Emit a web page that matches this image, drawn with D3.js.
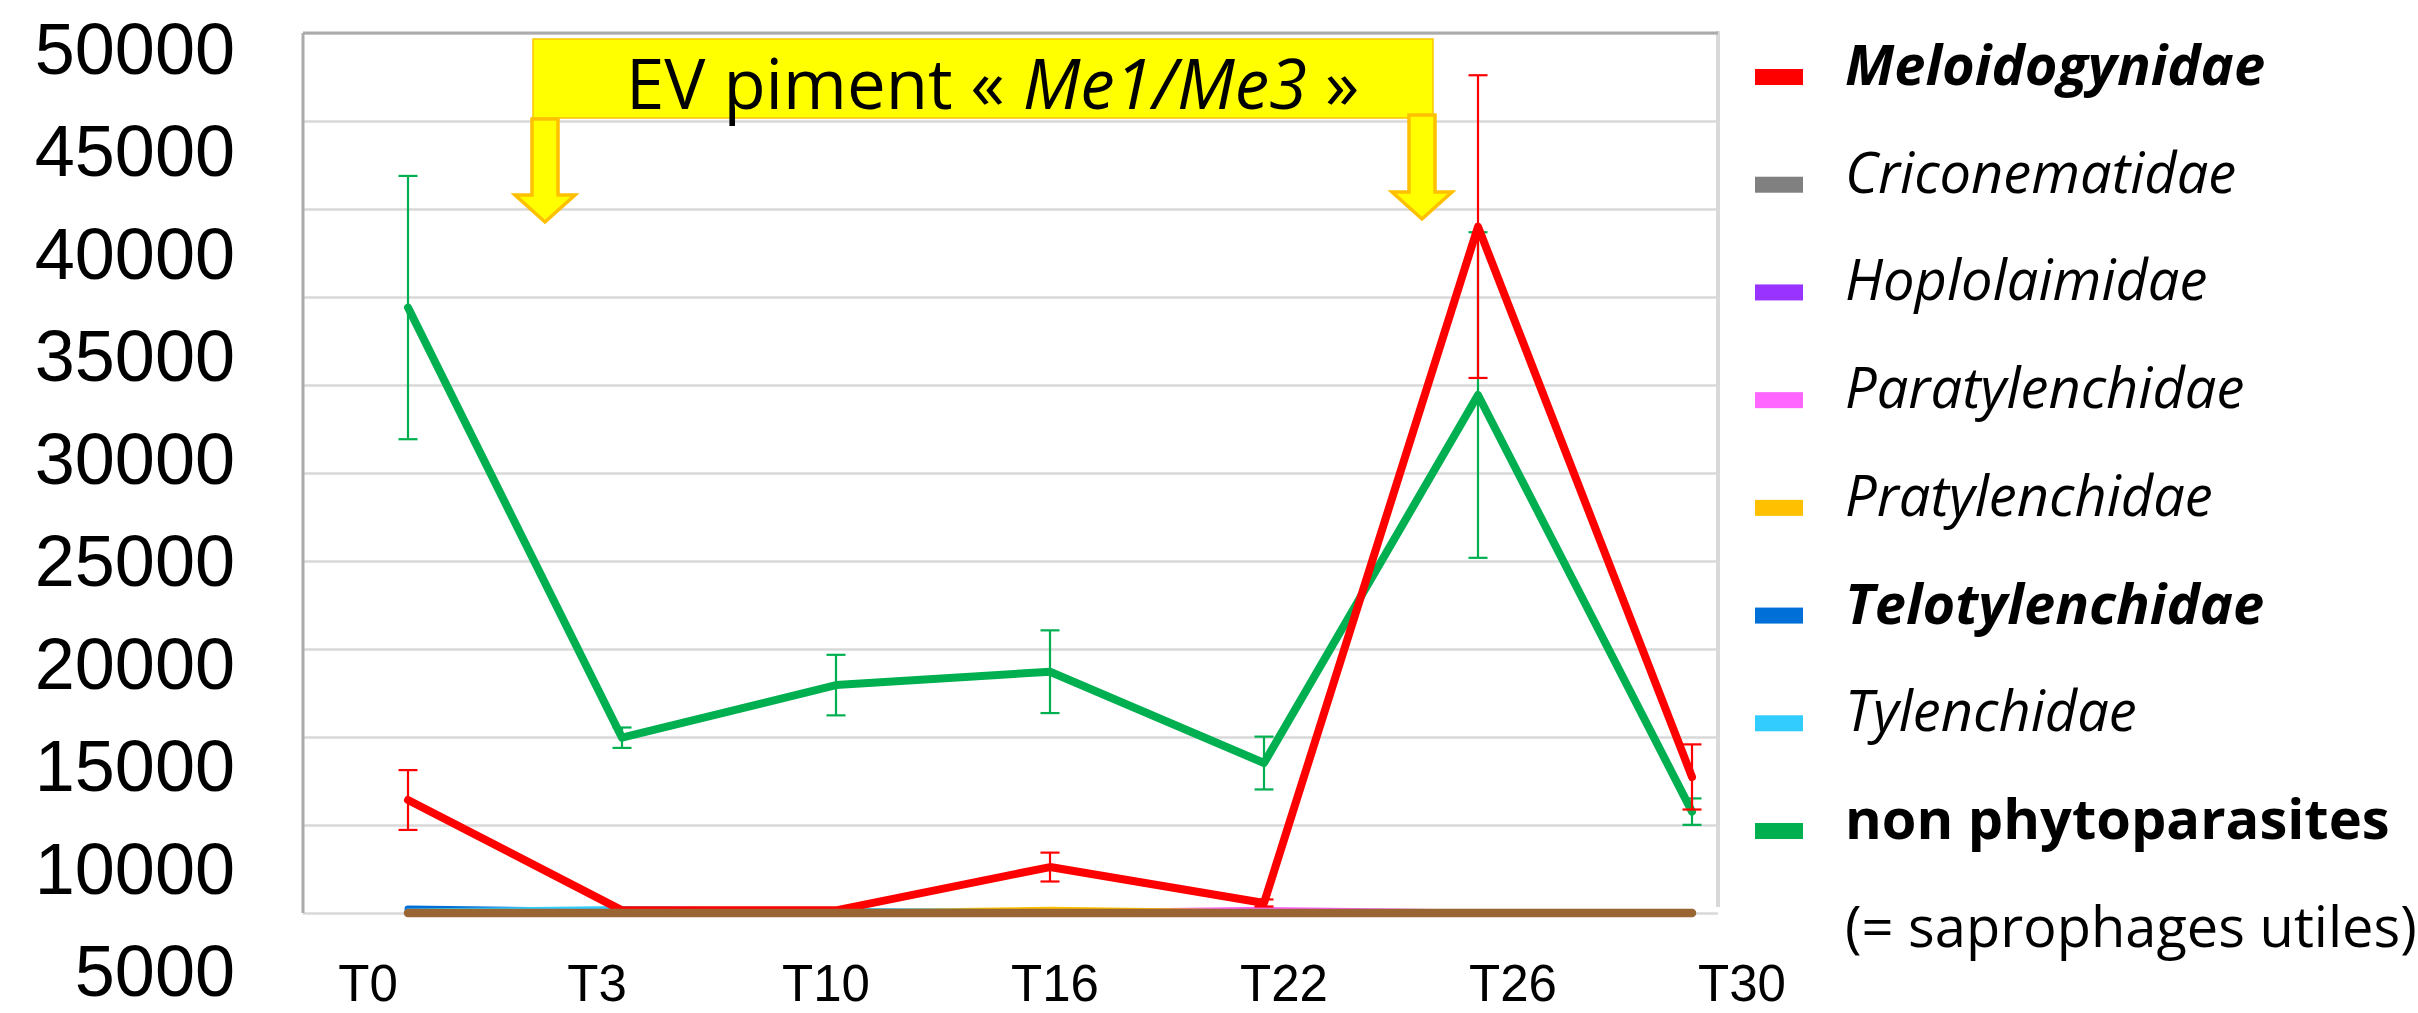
<!DOCTYPE html>
<html><head><meta charset="utf-8">
<script src="https://cdn.jsdelivr.net/npm/d3@7"></script>
<style>body{margin:0;background:#fff} svg{display:block}</style>
</head><body>
<svg id="chart" width="2418" height="1013"></svg>
<script>
// ---------- DATA ----------
const categories = ["T0", "T3", "T10", "T16", "T22", "T26", "T30"];
const meloidogynidae    = [6420, 150, 150, 2610, 570, 39000, 7730];
const meloidogynidaeErr = [1700, 0, 0, 820, 200, 8600, 1850];
const criconematidae    = [0, 0, 0, 0, 0, 0, 0];
const hoplolaimidae     = [0, 0, 0, 0, 0, 0, 0];
const paratylenchidae   = [0, 0, 0, 0, 150, 0, 0];
const pratylenchidae    = [0, 0, 0, 150, 0, 0, 0];
const telotylenchidae   = [230, 80, 0, 0, 0, 0, 0];
const tylenchidae       = [60, 200, 100, 0, 0, 0, 0];
const nonPhyto          = [34400, 9960, 12950, 13710, 8520, 29430, 5760];
const nonPhytoErr       = [7480, 580, 1720, 2350, 1500, 9250, 750];
const baselineSeries    = [0, 0, 0, 0, 0, 0, 0];
const yTickLabels = ["50000", "45000", "40000", "35000", "30000", "25000", "20000", "15000", "10000", "5000"];
const legendNames = ["Meloidogynidae", "Criconematidae", "Hoplolaimidae", "Paratylenchidae",
                     "Pratylenchidae", "Telotylenchidae", "Tylenchidae", "non phytoparasites"];
const legendNote = "(= saprophages utiles)";
const bannerParts = [["EV piment « ", "normal"], ["Me1/Me3", "italic"], [" »", "normal"]];

// ---------- STYLE / LAYOUT ----------
const colors = {
  Meloidogynidae: "#FF0000", Criconematidae: "#808080", Hoplolaimidae: "#9933FF",
  Paratylenchidae: "#FF66FF", Pratylenchidae: "#FFC000", Telotylenchidae: "#0070D8",
  Tylenchidae: "#33CCFF", "non phytoparasites": "#00B050", baseline: "#996633"
};
const legendStyle = {
  Meloidogynidae: ["italic", 700], Criconematidae: ["italic", 400], Hoplolaimidae: ["italic", 400],
  Paratylenchidae: ["italic", 400], Pratylenchidae: ["italic", 400], Telotylenchidae: ["italic", 700],
  Tylenchidae: ["italic", 400], "non phytoparasites": ["normal", 700]
};
const plot = {left: 303, right: 1718, top: 33, bottom: 913};
const svg = d3.select("#chart");

const x = d3.scalePoint().domain(categories).range([408, 1692]);
const y = d3.scaleLinear().domain([0, 50000]).range([plot.bottom, plot.top]);

// gridlines
const grid = svg.append("g").attr("transform", `translate(${plot.left},0)`)
  .call(d3.axisLeft(y).ticks(10).tickSize(-(plot.right - plot.left)).tickFormat(""));
grid.select(".domain").remove();
grid.selectAll("line").attr("stroke", "#D9D9D9").attr("stroke-width", 2.5);

// borders
svg.append("line").attr("x1", plot.right).attr("x2", plot.right).attr("y1", plot.top - 2).attr("y2", plot.bottom - 6)
  .attr("stroke", "#D9D9D9").attr("stroke-width", 4);
svg.append("line").attr("x1", plot.left).attr("x2", plot.right).attr("y1", plot.top).attr("y2", plot.top)
  .attr("stroke", "#ABABAB").attr("stroke-width", 3);
svg.append("line").attr("x1", plot.left).attr("x2", plot.left).attr("y1", plot.top).attr("y2", plot.bottom)
  .attr("stroke", "#ABABAB").attr("stroke-width", 3);

// y label column (pasted labels, own spacing)
const yLab = d3.scalePoint().domain(yTickLabels).range([74, 996]);
svg.append("g").selectAll("text").data(yTickLabels).join("text")
  .attr("x", 235).attr("y", d => yLab(d)).attr("text-anchor", "end")
  .style("font-family", "'Liberation Sans', Arial, sans-serif").style("font-size", "72px")
  .attr("fill", "#000").text(d => d);

// x labels
const xLab = d3.scalePoint().domain(categories).range([368, 1742]);
svg.append("g").selectAll("text").data(categories).join("text")
  .attr("x", d => xLab(d)).attr("y", 1001).attr("text-anchor", "middle")
  .style("font-family", "'Liberation Sans', Arial, sans-serif").style("font-size", "51px")
  .attr("fill", "#000").text(d => d);

// series
const line = d3.line().x((d, i) => x(categories[i])).y(d => y(d));
function drawSeries(values, color, width) {
  svg.append("path").datum(values).attr("d", line).attr("fill", "none")
    .attr("stroke", color).attr("stroke-width", width)
    .attr("stroke-linejoin", "round").attr("stroke-linecap", "round");
}
function drawErr(values, errs, color) {
  const g = svg.append("g").attr("stroke", color).attr("stroke-width", 2.2);
  values.forEach((v, i) => {
    const e = errs[i]; if (!e) return;
    const cx = x(categories[i]);
    g.append("line").attr("x1", cx).attr("x2", cx).attr("y1", y(v - e)).attr("y2", y(v + e));
    [v - e, v + e].forEach(w => g.append("line").attr("x1", cx - 9.5).attr("x2", cx + 9.5).attr("y1", y(w)).attr("y2", y(w)));
  });
}
drawSeries(criconematidae, colors.Criconematidae, 7);
drawSeries(hoplolaimidae, colors.Hoplolaimidae, 7);
drawSeries(paratylenchidae, colors.Paratylenchidae, 7);
drawSeries(pratylenchidae, colors.Pratylenchidae, 7);
drawSeries(telotylenchidae, colors.Telotylenchidae, 7);
drawSeries(tylenchidae, colors.Tylenchidae, 7);
drawErr(nonPhyto, nonPhytoErr, colors["non phytoparasites"]);
drawSeries(nonPhyto, colors["non phytoparasites"], 8);
drawErr(meloidogynidae, meloidogynidaeErr, colors.Meloidogynidae);
drawSeries(meloidogynidae, colors.Meloidogynidae, 8);
drawSeries(baselineSeries, colors.baseline, 8.5);

// banner annotation
svg.append("rect").attr("x", 533).attr("y", 39).attr("width", 900).attr("height", 79)
  .attr("fill", "#FFFF00").attr("stroke", "#F7C600").attr("stroke-width", 1.5);
const bt = svg.append("text").attr("x", 626).attr("y", 109)
  .style("font-family", "'Open Sans', 'Noto Sans', sans-serif").style("font-size", "69px").attr("fill", "#000");
bannerParts.forEach(([t, st]) => bt.append("tspan").style("font-style", st).text(t));

function arrow(cx, yTop, yHead, yTip) {
  const p = d3.path();
  p.moveTo(cx - 13, yTop); p.lineTo(cx + 13, yTop); p.lineTo(cx + 13, yHead); p.lineTo(cx + 30, yHead);
  p.lineTo(cx, yTip); p.lineTo(cx - 30, yHead); p.lineTo(cx - 13, yHead); p.closePath();
  svg.append("path").attr("d", p.toString()).attr("fill", "#FFFF00").attr("stroke", "#FFC000")
    .attr("stroke-width", 3.5).attr("stroke-linejoin", "miter");
}
arrow(545, 119, 195, 222);
arrow(1422, 115, 192, 219);

// legend
const legY = d3.scalePoint().domain(legendNames).range([77, 831]);
const leg = svg.append("g");
legendNames.forEach(n => {
  const cy = legY(n);
  leg.append("rect").attr("x", 1755).attr("y", cy - 8).attr("width", 48).attr("height", 16).attr("fill", colors[n]);
  leg.append("text").attr("x", 1845).attr("y", cy + 8)
    .style("font-family", "'Open Sans', 'Noto Sans', sans-serif").style("font-size", "56px")
    .style("font-style", legendStyle[n][0]).style("font-weight", legendStyle[n][1])
    .attr("fill", "#000").text(n);
});
leg.append("text").attr("x", 1845).attr("y", legY(legendNames[7]) + legY.step() + 8)
  .style("font-family", "'Open Sans', 'Noto Sans', sans-serif").style("font-size", "56px")
  .attr("fill", "#000").text(legendNote);
</script>
</body></html>
